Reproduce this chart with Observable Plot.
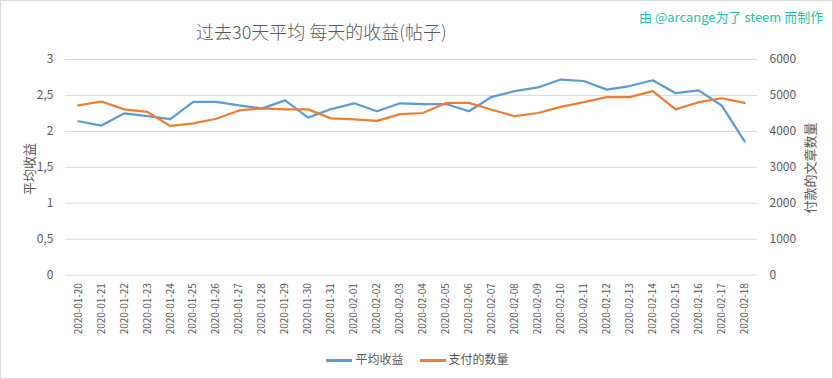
<!DOCTYPE html>
<html>
<head>
<meta charset="utf-8">
<script src="https://cdn.jsdelivr.net/npm/d3@7"></script>
<script src="https://cdn.jsdelivr.net/npm/@observablehq/plot@0.6"></script>
<style>
  html, body { margin: 0; padding: 0; background: #fff; }
  #wrap { position: relative; width: 833px; height: 379px; box-sizing: border-box; border: 1px solid #d9d9d9; overflow: hidden; font-family: "Noto Sans CJK SC", "Noto Sans", sans-serif; color: #595959; }
  #chart { position: absolute; left: -1px; top: -1px; }
  .abs { position: absolute; white-space: nowrap; }
  #title { left: 195px; top: 17px; font-size: 18px; color: #595959; font-weight: 300; }
  #credit { left: 638px; top: 6px; font-size: 13px; color: #20c2aa; }
  .ytitle { font-size: 13px; color: #595959; transform: translate(-50%, -50%) rotate(-90deg); }
  #legend { left: 0; width: 833px; top: 349px; text-align: center; font-size: 12px; }
  .sw { display: inline-block; width: 26px; height: 3px; vertical-align: middle; margin-right: 3px; }
  .item { display: inline-block; margin: 0 8px; }
</style>
</head>
<body>
<div id="wrap">
  <div id="chart"></div>
  <div id="title" class="abs">过去30天平均 每天的收益(帖子)</div>
  <div id="credit" class="abs">由 @arcange为了 steem 而制作</div>
  <div class="abs ytitle" style="left:27px;top:168px;">平均收益</div>
  <div class="abs ytitle" style="left:808px;top:167px;">付款的文章数量</div>
  <div id="legend" class="abs"></div>
</div>
<script>
const dates = ["2020-01-20","2020-01-21","2020-01-22","2020-01-23","2020-01-24","2020-01-25","2020-01-26","2020-01-27","2020-01-28","2020-01-29","2020-01-30","2020-01-31","2020-02-01","2020-02-02","2020-02-03","2020-02-04","2020-02-05","2020-02-06","2020-02-07","2020-02-08","2020-02-09","2020-02-10","2020-02-11","2020-02-12","2020-02-13","2020-02-14","2020-02-15","2020-02-16","2020-02-17","2020-02-18"];
const avgReward = [2.14,2.08,2.25,2.21,2.17,2.41,2.41,2.36,2.32,2.43,2.19,2.31,2.39,2.28,2.39,2.38,2.38,2.28,2.48,2.56,2.61,2.72,2.70,2.58,2.63,2.71,2.53,2.57,2.36,1.86];
const paidCount = [4720,4830,4610,4540,4150,4220,4350,4580,4640,4610,4610,4360,4330,4290,4480,4510,4790,4790,4600,4420,4510,4680,4810,4950,4950,5120,4610,4810,4920,4790];
const leftTicks = [0,0.5,1,1.5,2,2.5,3];
const rightTicks = [0,1000,2000,3000,4000,5000,6000];
const seriesNames = ["平均收益","支付的数量"];
const colors = ["#5b9bd5","#ed7d31"];

const ratio = 2000; // right axis = left axis * 2000
const blue = dates.map((d,i) => ({date: d, v: avgReward[i]}));
const orange = dates.map((d,i) => ({date: d, v: paidCount[i]}));

const fmtComma = d => String(d).replace(".", ",");

const chart = Plot.plot({
  width: 833,
  height: 379,
  marginTop: 59,
  marginBottom: 104,
  marginLeft: 65,
  marginRight: 75,
  style: {fontFamily: '"Noto Sans CJK SC", "Noto Sans", sans-serif', color: "#595959", background: "transparent"},
  x: {type: "point", domain: dates, padding: 0.5},
  y: {domain: [0, 3]},
  marks: [
    Plot.ruleY(leftTicks, {stroke: "#d9d9d9", strokeWidth: 1}),
    Plot.axisY(leftTicks, {anchor: "left", tickSize: 0, tickPadding: 12, tickFormat: fmtComma, fontSize: 12, fill: "#595959", label: null}),
    Plot.axisY(rightTicks.map(t => t / ratio), {anchor: "right", tickSize: 0, tickPadding: 12, tickFormat: d => String(Math.round(d * ratio)), fontSize: 12, fill: "#595959", label: null}),
    Plot.axisX({anchor: "bottom", tickSize: 0, tickPadding: 8, tickRotate: -90, fontSize: 10, fill: "#595959", label: null}),
    Plot.line(blue, {x: "date", y: "v", stroke: colors[0], strokeWidth: 2.25, curve: "linear"}),
    Plot.line(orange, {x: "date", y: d => d.v / ratio, stroke: colors[1], strokeWidth: 2.25, curve: "linear"})
  ]
});
document.getElementById("chart").appendChild(chart);

const legend = document.getElementById("legend");
seriesNames.forEach((n, i) => {
  const it = document.createElement("span");
  it.className = "item";
  it.innerHTML = `<span class="sw" style="background:${colors[i]}"></span>${n}`;
  legend.appendChild(it);
});
</script>
</body>
</html>
